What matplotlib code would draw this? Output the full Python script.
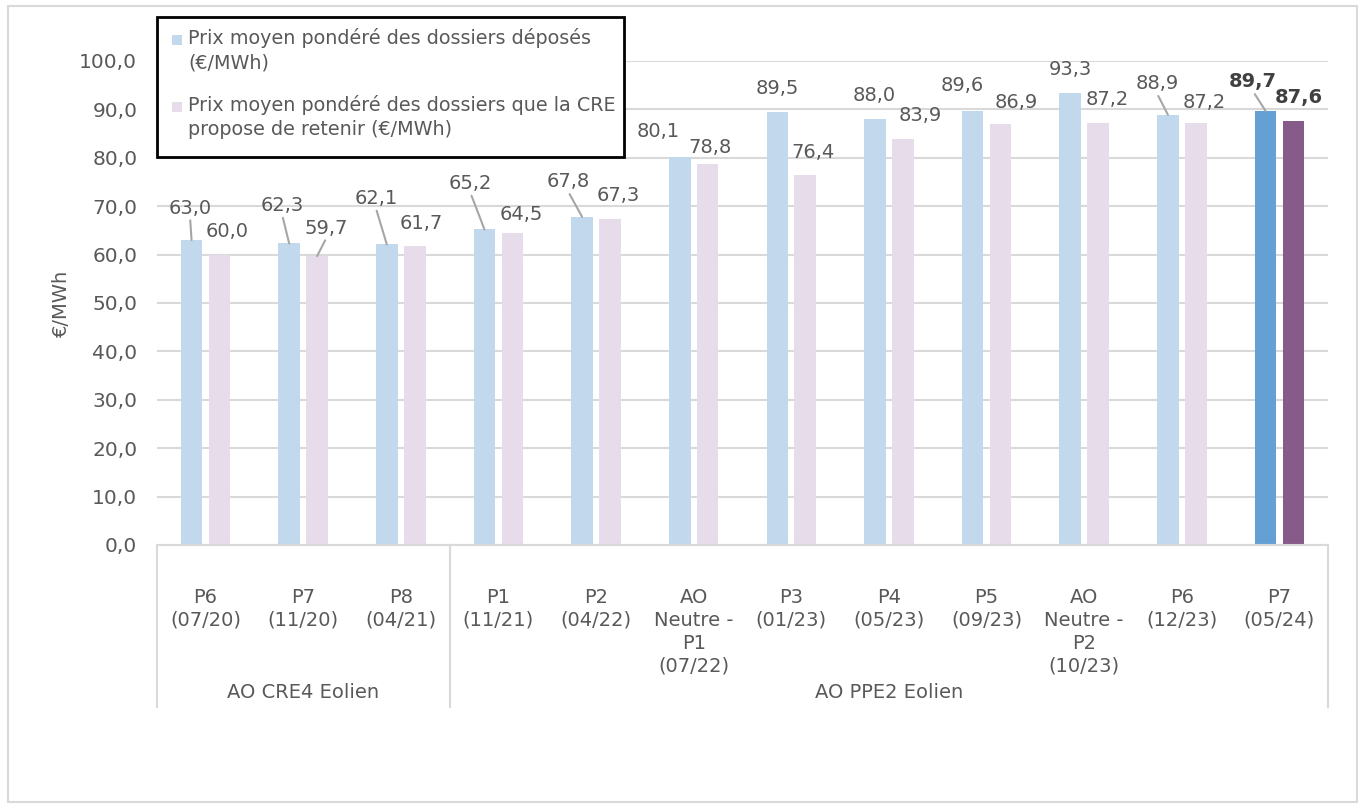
import matplotlib.pyplot as plt
from matplotlib.patches import Rectangle
import numpy as np

# Appels d'offres eolien terrestre : prix moyens ponderes
categories = ['P6\n(07/20)', 'P7\n(11/20)', 'P8\n(04/21)', 'P1\n(11/21)', 'P2\n(04/22)',
              'AO\nNeutre -\nP1\n(07/22)', 'P3\n(01/23)', 'P4\n(05/23)', 'P5\n(09/23)',
              'AO\nNeutre -\nP2\n(10/23)', 'P6\n(12/23)', 'P7\n(05/24)']
groups = ['AO CRE4 Eolien', 'AO PPE2 Eolien']
group_sizes = [3, 9]
deposes = [63.0, 62.3, 62.1, 65.2, 67.8, 80.1, 89.5, 88.0, 89.6, 93.3, 88.9, 89.7]
retenus = [60.0, 59.7, 61.7, 64.5, 67.3, 78.8, 76.4, 83.9, 86.9, 87.2, 87.2, 87.6]
legend_labels = ['Prix moyen pondéré des dossiers déposés\n(€/MWh)',
                 'Prix moyen pondéré des dossiers que la CRE\npropose de retenir (€/MWh)']

# Decalage des etiquettes (pixels) et presence d'un trait de rappel
off_dep = [(-1.5, 32), (-7, 38), (-11, 46), (-14, 46), (-14, 35), (-22, 26),
           (-0.5, 23.5), (-1, 24), (-10, 26), (0, 23.5), (-11, 31), (-12.5, 29)]
lead_dep = [True, True, True, True, True, False, False, False, False, False, True, True]
off_ret = [(7.5, 23), (9.5, 28), (7, 23), (8.5, 18), (8.5, 24), (2, 16.5),
           (7.5, 22.5), (17, 23), (15.5, 22), (9, 23), (8, 20), (5.5, 24)]
lead_ret = [False, True, False, False, False, False, False, False, False, False, False, False]

TXT = '#595959'
GRID = '#D9D9D9'
c_dep = ['#C2D9ED'] * 11 + ['#64A0D3']
c_ret = ['#E7DCEA'] * 11 + ['#865A89']

plt.rcParams['font.family'] = ['DejaVu Sans']
plt.rcParams['font.size'] = 13.5

fig = plt.figure(figsize=(13.61, 8.09), dpi=100)
W, H = 1361, 809
ax = fig.add_axes([156.7 / W, 1 - 545 / H, (1328.3 - 156.7) / W, (545 - 61) / H])

x = np.arange(len(categories))
bw = 0.222
ax.bar(x - 0.143, deposes, bw, color=c_dep, zorder=2)
ax.bar(x + 0.143, retenus, bw, color=c_ret, zorder=2)

ax.set_xlim(-0.5, len(categories) - 0.5)
ax.set_ylim(0, 100)
ax.set_yticks(np.arange(0, 101, 10))
ax.set_yticklabels([f'{v:.1f}'.replace('.', ',') for v in np.arange(0, 101, 10)])
ax.yaxis.grid(True, color=GRID, lw=1.5, zorder=0)
ax.set_axisbelow(True)
for s in ['top', 'right', 'left']:
    ax.spines[s].set_visible(False)
ax.spines['bottom'].set_color(GRID)
ax.spines['bottom'].set_linewidth(1.5)
ax.tick_params(axis='y', length=0, pad=14, labelcolor=TXT, labelsize=14.5)
ax.set_xticks(x)
ax.set_xticklabels(categories, linespacing=1.25)
ax.tick_params(axis='x', length=0, pad=31, labelcolor=TXT, labelsize=14)
ax.set_ylabel('€/MWh', color=TXT, fontsize=14, labelpad=6)

# Etiquettes de valeurs
def label_bars(xs, vals, offs, leads, bold_last):
    for i, (xi, v) in enumerate(zip(xs, vals)):
        bold = bold_last and i == len(vals) - 1
        arrow = dict(arrowstyle='-', color='#A6A6A6', lw=1.5, shrinkA=0, shrinkB=0,
                     relpos=(0.5, 0.0)) if leads[i] else None
        ax.annotate(f'{v:.1f}'.replace('.', ','), (xi, v), xytext=offs[i],
                    textcoords='offset pixels', ha='center', va='center',
                    fontsize=14, color='#404040' if bold else TXT,
                    fontweight='bold' if bold else 'normal', arrowprops=arrow,
                    annotation_clip=False, zorder=4)

label_bars(x - 0.143, deposes, off_dep, lead_dep, True)
label_bars(x + 0.143, retenus, off_ret, lead_ret, True)

# Axe des categories a deux niveaux
tr = ax.get_xaxis_transform()
bottom = -162 / 484
edges = np.concatenate([[0], np.cumsum(group_sizes)]) - 0.5
for e in edges:
    ax.plot([e, e], [0, bottom], transform=tr, color=GRID, lw=1.5, clip_on=False)
for g, a, b in zip(groups, edges[:-1], edges[1:]):
    ax.text((a + b) / 2, -147 / 484, g, transform=tr, ha='center', va='center',
            color=TXT, fontsize=14)

# Legende encadree
fig.patches.append(Rectangle((157 / W, 1 - 157 / H), (624 - 157) / W, (157 - 17) / H,
                             transform=fig.transFigure, facecolor='white',
                             edgecolor='black', lw=2, zorder=10))
for lab, col, ytop in zip(legend_labels, [c_dep[0], c_ret[0]], [40, 107]):
    fig.patches.append(Rectangle((172 / W, 1 - (ytop + 5) / H), 10 / W, 10 / H,
                                 transform=fig.transFigure, facecolor=col,
                                 edgecolor='none', zorder=11))
    fig.text(188 / W, 1 - (ytop - 12) / H, lab, ha='left', va='top', color=TXT,
             fontsize=13.8, linespacing=1.35, zorder=12)

# Cadre exterieur
fig.patches.append(Rectangle((8 / W, 1 - 802 / H), (1356.7 - 8) / W, (802 - 6) / H,
                             transform=fig.transFigure, facecolor='none',
                             edgecolor=GRID, lw=1.5, zorder=0))

fig.savefig('out.png', dpi=100)
